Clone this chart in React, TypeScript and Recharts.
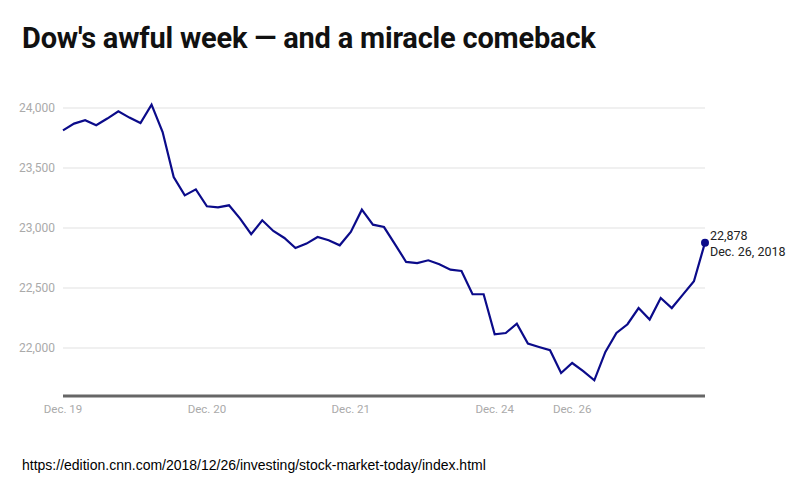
import { LineChart, Line, XAxis, YAxis, ReferenceLine } from "recharts";

// Dow Jones intraday, roughly half-hour steps, Dec. 19 – Dec. 26, 2018
const dowValues = [
    23814, 23870, 23898, 23856, 23912, 23972, 23920, 23875, 24028, 23800,
    23425, 23272, 23322, 23181, 23172, 23189, 23078, 22948, 23064, 22975,
    22917, 22833, 22870, 22925, 22898, 22856, 22967, 23153, 23028, 23008,
    22864, 22717, 22708, 22731, 22698, 22653, 22642, 22448, 22448, 22114,
    22125, 22203, 22037, 22008, 21981, 21792, 21875, 21808, 21731, 21967,
    22125, 22198, 22333, 22237, 22417, 22333, 22445, 22556, 22878,
];

const dayTickIndex = [0, 13, 26, 39, 46];
const dayTickLabels = ["Dec. 19", "Dec. 20", "Dec. 21", "Dec. 24", "Dec. 26"];
const yTicks = [22000, 22500, 23000, 23500, 24000];

const lastLabel = "22,878";
const lastDate = "Dec. 26, 2018";

const LINE_COLOR = "#0b0b8a";

const data = dowValues.map((v, i) => ({ i, v }));

const EndDot = (props: any) => {
    const { cx, cy, index } = props;
    if (index !== dowValues.length - 1) return null;
    return (
        <g>
            <circle cx={cx} cy={cy} r={4} fill={LINE_COLOR} />
            <text x={cx + 5} y={cy - 3} fontSize={12.5} fill="#222" fontFamily="Roboto, sans-serif">
                {lastLabel}
            </text>
            <text x={cx + 5} y={cy + 13} fontSize={12.5} fill="#222" fontFamily="Roboto, sans-serif">
                {lastDate}
            </text>
        </g>
    );
};

export default function App() {
    return (
        <div style={{ position: "absolute", left: 0, top: 0, width: 800, height: 504, background: "#fff" }}>
            <div
                style={{
                    position: "absolute",
                    left: 22,
                    top: 21,
                    fontFamily: "Roboto, sans-serif",
                    fontWeight: 700,
                    fontSize: 29,
                    letterSpacing: -0.2,
                    color: "#111",
                    whiteSpace: "nowrap",
                }}
            >
                Dow's awful week — and a miracle comeback
            </div>

            <div style={{ position: "absolute", left: 0, top: 0 }}>
                <LineChart width={800} height={504} data={data} margin={{ top: 84, right: 95, left: 0, bottom: 0 }}>
                    {yTicks.map((t) => (
                        <ReferenceLine key={t} y={t} stroke="#ebebeb" strokeWidth={1.5} />
                    ))}
                    <XAxis
                        dataKey="i"
                        type="number"
                        domain={[0, dowValues.length - 1]}
                        ticks={dayTickIndex}
                        tickFormatter={(v: number) => dayTickLabels[dayTickIndex.indexOf(v)] ?? ""}
                        height={108}
                        axisLine={{ stroke: "#666", strokeWidth: 3 }}
                        tickLine={false}
                        tick={{ fill: "#aaa", fontSize: 11.5, fontFamily: "Roboto, sans-serif" }}
                        tickMargin={3}
                        interval={0}
                    />
                    <YAxis
                        width={63}
                        domain={[21600, 24200]}
                        ticks={yTicks}
                        tickFormatter={(v: number) => v.toLocaleString("en-US")}
                        axisLine={false}
                        tickLine={false}
                        tick={{ fill: "#aaa", fontSize: 12, fontFamily: "Roboto, sans-serif" }}
                    />
                    <Line
                        type="linear"
                        dataKey="v"
                        stroke={LINE_COLOR}
                        strokeWidth={2.2}
                        dot={<EndDot />}
                        activeDot={false}
                        isAnimationActive={false}
                    />
                </LineChart>
            </div>

            <div
                style={{
                    position: "absolute",
                    left: 22,
                    top: 457,
                    fontFamily: "'Liberation Sans', Arial, sans-serif",
                    fontSize: 14,
                    color: "#000",
                    whiteSpace: "nowrap",
                }}
            >
                https://edition.cnn.com/2018/12/26/investing/stock-market-today/index.html
            </div>
        </div>
    );
}
